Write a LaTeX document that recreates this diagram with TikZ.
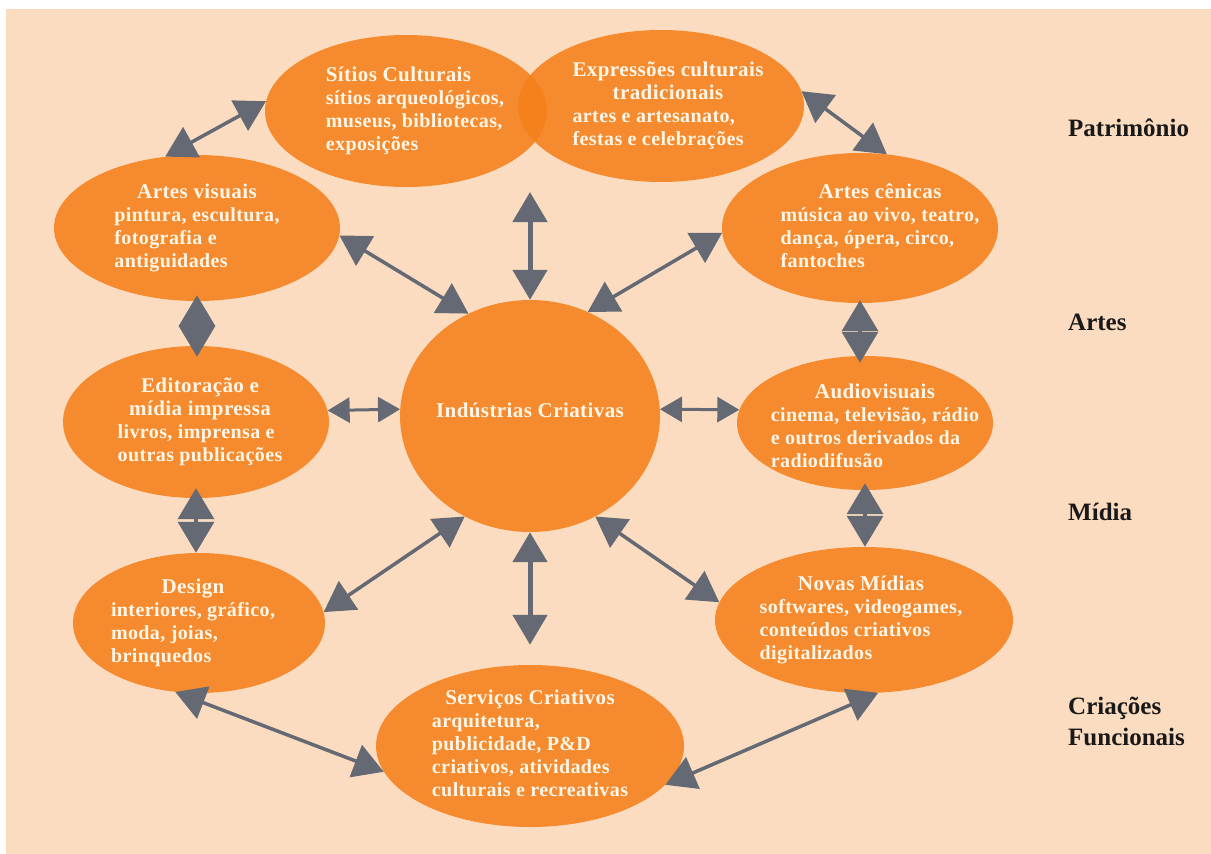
\documentclass[tikz,border=0pt]{standalone}
\usepackage{fontspec}
\setmainfont{Liberation Serif}
\newfontfamily\areafont[LetterSpace=2]{Liberation Serif}
\usetikzlibrary{shapes.geometric}
\usetikzlibrary{arrows.meta}

\definecolor{peach}{HTML}{FCDCC0}
\definecolor{areaorange}{HTML}{F5801A}
\definecolor{linkgrey}{HTML}{646973}
\definecolor{cream}{HTML}{FFF6E8}

\newcommand{\hd}[1]{{\fontsize{21}{24}\selectfont #1}}
\newcommand{\ttl}[1]{\multicolumn{1}{@{}c@{}}{\hd{#1}}}

\begin{document}
\begin{tikzpicture}[x=1pt,y=-1pt,
  area/.style={ellipse,fill=areaorange,fill opacity=.88,inner sep=0pt},
  areatext/.style={text=cream,text opacity=1,inner sep=0pt,
    font=\areafont\bfseries\fontsize{20}{23}\selectfont},
  side/.style={anchor=west,align=left,inner sep=0pt,text=black!90,
    font=\bfseries\fontsize{25}{31}\selectfont},
  big/.tip={Triangle[width=34pt,length=30pt]},
  small/.tip={Triangle[width=25pt,length=22pt]},
  diam/.tip={Triangle[width=36pt,length=31pt]},
  link/.style={big-big,draw=linkgrey,line width=3.5pt}]

\fill[white] (0,0) rectangle (1211,854);
\fill[peach] (6,9) rectangle (1211,854);

\node[area,minimum width=282pt,minimum height=152pt,
  label={[areatext,xshift=9pt]center:{\begin{tabular}{@{}l@{}}
  \hd{Sítios Culturais}\\ sítios arqueológicos,\\ museus, bibliotecas,\\ exposições
  \end{tabular}}}] (sitios) at (406,111) {};
\node[area,minimum width=286pt,minimum height=152pt,
  label={[areatext,xshift=7pt]center:{\begin{tabular}{@{}l@{}}
  \ttl{Expressões culturais}\\ \ttl{tradicionais}\\ artes e artesanato,\\ festas e celebrações
  \end{tabular}}}] (expr) at (661,106) {};
\node[area,minimum width=286pt,minimum height=146pt,
  label={[areatext]center:{\begin{tabular}{@{}l@{}}
  \ttl{Artes visuais}\\ pintura, escultura,\\ fotografia e\\ antiguidades
  \end{tabular}}}] (avis) at (197,228) {};
\node[area,minimum width=276pt,minimum height=150pt,
  label={[areatext,xshift=20pt]center:{\begin{tabular}{@{}l@{}}
  \ttl{Artes cênicas}\\ música ao vivo, teatro,\\ dança, ópera, circo,\\ fantoches
  \end{tabular}}}] (acen) at (860,228) {};
\node[area,minimum width=266pt,minimum height=152pt,
  label={[areatext,xshift=4pt]center:{\begin{tabular}{@{}l@{}}
  \ttl{Editoração e}\\ \ttl{mídia impressa}\\ livros, imprensa e\\ outras publicações
  \end{tabular}}}] (edit) at (196,422) {};
\node[area,minimum width=260pt,minimum height=232pt,
  label={[areatext,yshift=6pt]center:{\hd{Indústrias Criativas}}}] (ic) at (530,416) {};
\node[area,minimum width=256pt,minimum height=134pt,
  label={[areatext,xshift=10pt,yshift=-5pt]center:{\begin{tabular}{@{}l@{}}
  \ttl{Audiovisuais}\\ cinema, televisão, rádio\\ e outros derivados da\\ radiodifusão
  \end{tabular}}}] (audio) at (865,423) {};
\node[area,minimum width=252pt,minimum height=140pt,
  label={[areatext,xshift=-6pt]center:{\begin{tabular}{@{}l@{}}
  \ttl{Design}\\ interiores, gráfico,\\ moda, joias,\\ brinquedos
  \end{tabular}}}] (design) at (199,623) {};
\node[area,minimum width=298pt,minimum height=146pt,
  label={[areatext,xshift=-3pt]center:{\begin{tabular}{@{}l@{}}
  \ttl{Novas Mídias}\\ softwares, videogames,\\ conteúdos criativos\\ digitalizados
  \end{tabular}}}] (novas) at (864,620) {};
\node[area,minimum width=308pt,minimum height=162pt,
  label={[areatext]center:{\begin{tabular}{@{}l@{}}
  \ttl{Serviços Criativos}\\ arquitetura,\\ publicidade, P\&D\\ criativos, atividades\\ culturais e recreativas
  \end{tabular}}}] (serv) at (530,746) {};

\coordinate (patr) at (530,192);

\node[side] (patrim) at (1068,128) {Patrimônio};
\node[side] (artes) at (1068,322) {Artes};
\node[side] (midia) at (1068,512) {Mídia};
\node[side] (funcio) at (1068,721) {Criações\\Funcionais};

\draw[link] (avis.114) -- (sitios.176);
\draw[link] (expr.6) -- (acen.70);
\draw[link] (avis.-3) -- (ic.121);
\draw[link] (acen.182) -- (ic.61);
\draw[link] (design.5) -- (ic.237);
\draw[link] (novas.173) -- (ic.-57);
\draw[link] (design.251) -- (serv.190);
\draw[link] (serv.-16) -- (novas.281);
\draw[link,small-small,line width=3pt] (edit.5) -- (ic.177);
\draw[link,small-small,line width=3pt] (ic.3) -- (audio.174);
\draw[link,line width=5pt] (patr) -- (ic.north);
\draw[link,line width=5pt,shorten >=20pt] (ic.south) -- (serv.north);
\draw[link,diam-diam,shorten <=-6pt,shorten >=-11pt] (avis.south) -- (avis.south |- edit.north);
\draw[link,diam-diam,shorten <=-10pt] (edit.south) -- (edit.south |- design.north);
\draw[link,diam-diam,shorten <=-3pt,shorten >=-7pt] (acen.south) -- (acen.south |- audio.north);
\draw[link,diam-diam,shorten <=-7pt] (audio.south) -- (audio.south |- novas.north);
\end{tikzpicture}
\end{document}
